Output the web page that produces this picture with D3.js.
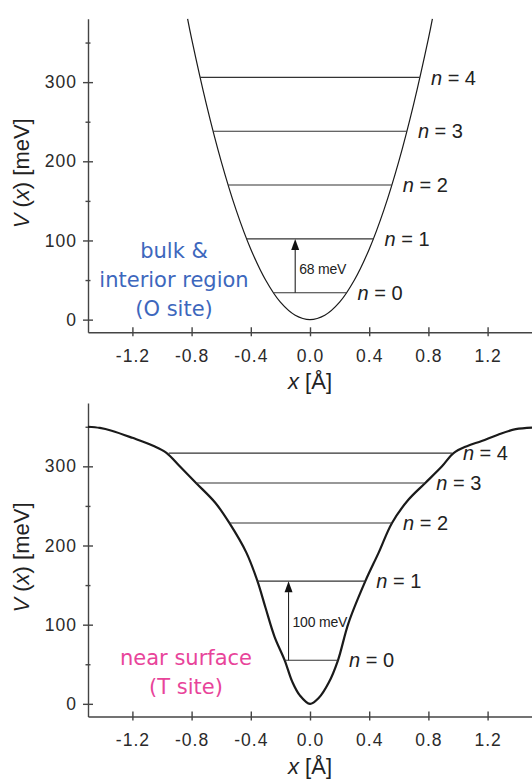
<!DOCTYPE html>
<html>
<head>
<meta charset="utf-8">
<script src="https://cdn.jsdelivr.net/npm/d3@7"></script>
<style>
  body { margin: 0; background: #fff; }
  svg { display: block; }
</style>
</head>
<body>
<svg id="chart" width="532" height="781"></svg>
<script>
// axis ticks shared by both panels
const xTicks = [-1.2, -0.8, -0.4, 0.0, 0.4, 0.8, 1.2];
const yTicks = [0, 100, 200, 300];
const yMinorTicks = [50, 150, 250, 350];
const levelIndex = [0, 1, 2, 3, 4];

// top panel: bulk & interior region (O site), harmonic well
const bulkX = [-0.827, -0.8, -0.7, -0.6, -0.5, -0.4, -0.3, -0.2, -0.1, 0, 0.1, 0.2, 0.3, 0.4, 0.5, 0.6, 0.7, 0.8, 0.827];
const bulkV = [380, 355, 272, 200, 139, 89, 50, 22, 5.5, 0, 5.5, 22, 50, 89, 139, 200, 272, 355, 380];
const bulkLevels = [34, 102, 170, 238, 306];
const bulkLeft = [-0.247, -0.429, -0.553, -0.655, -0.743];
const bulkRight = [0.247, 0.429, 0.553, 0.655, 0.743];
const bulkArrow = [-0.1, 34, 102];
const bulkGapLabel = '68 meV';
const bulkRegion = ['bulk &', 'interior region', '(O site)'];

// bottom panel: near surface (T site), anharmonic well
const surfX = [-1.5, -1.42, -1.34, -1.2, -1.06, -0.97, -0.88, -0.77, -0.64, -0.545, -0.43, -0.355, -0.3, -0.24, -0.171, -0.12, -0.07, 0, 0.06, 0.126, 0.189, 0.26, 0.374, 0.464, 0.554, 0.666, 0.779, 0.892, 0.97, 1.06, 1.16, 1.27, 1.39, 1.5];
const surfV = [350, 348.5, 345, 336, 326, 317, 300, 279, 254, 228.5, 191, 155, 121, 85, 55, 28, 11, 0, 7.6, 26.5, 55, 102, 155, 191, 228.5, 258, 279, 300, 316.7, 325.5, 332, 340, 347, 349];
const surfLevels = [55, 155, 228.5, 279, 316.7];
const surfLeft = [-0.171, -0.355, -0.545, -0.77, -0.955];
const surfRight = [0.189, 0.374, 0.554, 0.779, 0.959];
const surfArrow = [-0.145, 55, 155];
const surfGapLabel = '100 meV';
const surfRegion = ['near surface', '(T site)'];

const svg = d3.select('#chart');

function panel(o) {
  const x = d3.scaleLinear().domain([-1.5, 1.5]).range([88, 532]);
  const y = d3.scaleLinear().domain([-16, 380]).range([o.base, o.base - 313.5]);
  const g = svg.append('g');

  // y axis, major + minor ticks crossing the axis line
  g.append('g')
    .attr('transform', 'translate(88,0)')
    .call(d3.axisLeft(y).tickValues(yTicks).tickSizeInner(5).tickSizeOuter(0).tickPadding(6))
    .call(a => a.selectAll('.tick line').attr('x1', 5))
    .call(a => a.selectAll('text').attr('font-size', 17.5).attr('letter-spacing', 1).attr('fill', '#2a2a2a'))
    .attr('font-family', 'Arial, sans-serif');
  g.append('g')
    .attr('transform', 'translate(88,0)')
    .call(d3.axisLeft(y).tickValues(yMinorTicks).tickSize(2.5).tickFormat(''))
    .call(a => a.select('.domain').remove())
    .call(a => a.selectAll('.tick line').attr('x1', 2.5));

  g.append('g')
    .attr('transform', `translate(0,${o.base})`)
    .call(d3.axisBottom(x).tickValues(xTicks).tickSizeInner(4).tickSizeOuter(0).tickPadding(13).tickFormat(d => d.toFixed(1)))
    .call(a => a.selectAll('.tick line').attr('y1', -5))
    .call(a => a.selectAll('text').attr('font-size', 17.5).attr('letter-spacing', 1).attr('fill', '#2a2a2a'))
    .attr('font-family', 'Arial, sans-serif');

  g.selectAll('.domain, .tick line').attr('stroke', '#444').attr('stroke-width', 1.4);

  // axis titles
  const xt = g.append('text')
    .attr('x', 310).attr('y', o.base + 57)
    .attr('text-anchor', 'middle')
    .attr('font-family', 'Arial, sans-serif').attr('font-size', 22).attr('fill', '#222');
  xt.append('tspan').attr('font-style', 'italic').text('x');
  xt.append('tspan').text(' [Å]');

  const yt = g.append('text')
    .attr('transform', `translate(29,${o.base - 159}) rotate(-90)`)
    .attr('text-anchor', 'middle')
    .attr('font-family', 'Arial, sans-serif').attr('font-size', 22).attr('fill', '#222');
  yt.append('tspan').attr('font-style', 'italic').text('V');
  yt.append('tspan').text(' (');
  yt.append('tspan').attr('font-style', 'italic').text('x');
  yt.append('tspan').text(') [meV]');

  // potential curve
  const line = d3.line().x(d => x(d[0])).y(d => y(d[1])).curve(d3.curveCatmullRom.alpha(0.5));
  g.append('path')
    .datum(o.cx.map((v, i) => [v, o.cv[i]]))
    .attr('d', line)
    .attr('fill', 'none')
    .attr('stroke', '#1a1a1a')
    .attr('stroke-width', o.curveWidth);

  // vibrational levels
  g.selectAll('.level')
    .data(levelIndex)
    .join('line')
    .attr('x1', i => x(o.left[i]))
    .attr('x2', i => x(o.right[i]))
    .attr('y1', i => y(o.levels[i]))
    .attr('y2', i => y(o.levels[i]))
    .attr('stroke', '#333')
    .attr('stroke-width', 1.1);

  const lab = g.selectAll('.nlab')
    .data(levelIndex)
    .join('text')
    .attr('x', i => x(o.right[i]) + 11)
    .attr('y', i => y(o.levels[i]))
    .attr('dy', '0.36em')
    .attr('font-family', 'Arial, sans-serif')
    .attr('font-size', 20)
    .attr('fill', '#222');
  lab.append('tspan').attr('font-style', 'italic').text('n');
  lab.append('tspan').text(i => ` = ${i}`);

  // excitation arrow
  const [ax, e0, e1] = o.arrow;
  const tipY = y(e1), headH = 11, headW = 4;
  g.append('line')
    .attr('x1', x(ax)).attr('x2', x(ax))
    .attr('y1', y(e0)).attr('y2', tipY + headH)
    .attr('stroke', '#222').attr('stroke-width', 1.1);
  g.append('path')
    .attr('d', `M${x(ax)},${tipY}L${x(ax) - headW},${tipY + headH}L${x(ax) + headW},${tipY + headH}Z`)
    .attr('fill', '#111');
  g.append('text')
    .attr('x', x(ax) + 4)
    .attr('y', y((e0 + e1) / 2))
    .attr('dy', o.gapDy)
    .attr('font-family', 'Arial, sans-serif')
    .attr('font-size', 14)
    .attr('letter-spacing', -0.2)
    .attr('fill', '#222')
    .text(o.gapLabel);

  // region caption
  g.selectAll('.region')
    .data(o.region)
    .join('text')
    .attr('x', o.regionX)
    .attr('y', (d, i) => o.regionY + i * 29)
    .attr('dy', '0.36em')
    .attr('text-anchor', 'middle')
    .attr('font-family', '"DejaVu Sans", sans-serif')
    .attr('font-size', 21)
    .attr('fill', o.regionColor)
    .text(d => d);
}

panel({
  base: 332.3, cx: bulkX, cv: bulkV, curveWidth: 1.2,
  levels: bulkLevels, left: bulkLeft, right: bulkRight,
  arrow: bulkArrow, gapLabel: bulkGapLabel, gapDy: '0.6em',
  region: bulkRegion, regionX: 174, regionY: 250, regionColor: '#3d67bd'
});

panel({
  base: 716.5, cx: surfX, cv: surfV, curveWidth: 2.2,
  levels: surfLevels, left: surfLeft, right: surfRight,
  arrow: surfArrow, gapLabel: surfGapLabel, gapDy: '0.45em',
  region: surfRegion, regionX: 186, regionY: 657, regionColor: '#e8449a'
});
</script>
</body>
</html>
